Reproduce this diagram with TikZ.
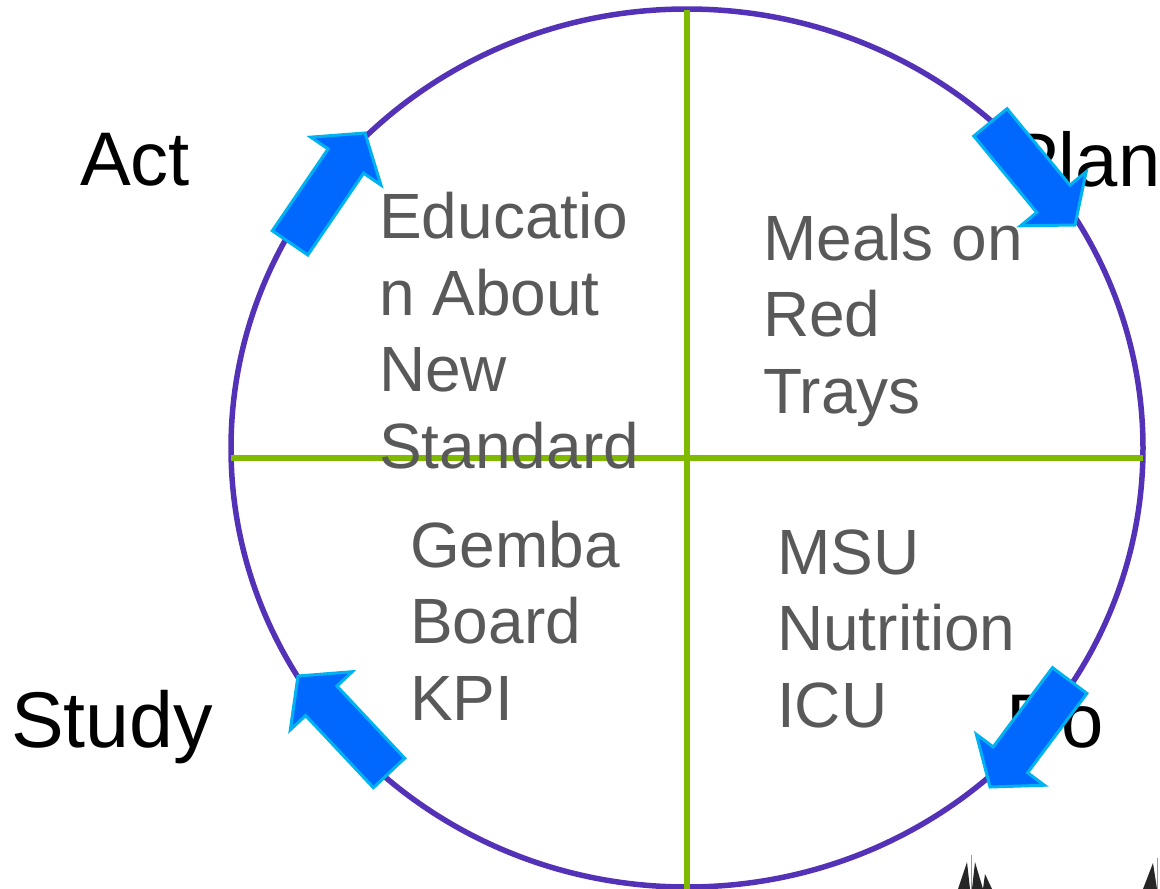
\documentclass[tikz,border=0pt]{standalone}
\usepackage{fontspec}
\setmainfont{Liberation Sans}
\usepackage{xcolor}
\usepackage{tikz}

\definecolor{ringpurple}{RGB}{84,50,184}
\definecolor{crossgreen}{RGB}{127,186,0}
\definecolor{arrowblue}{RGB}{0,104,255}
\definecolor{arrowedge}{RGB}{0,178,240}
\definecolor{taskgray}{RGB}{89,89,89}

\begin{document}
\begin{tikzpicture}[x=1pt, y=-1pt,
  phase/.style={anchor=base west, inner sep=0pt, font=\fontsize{76}{80}\selectfont},
  task/.style={anchor=base west, align=left, inner sep=0pt, text=taskgray, font=\fontsize{64}{76.5}\selectfont},
  pics/cyclearrow/.style={code={
    \draw[line width=3pt, draw=arrowedge, fill=arrowblue, line join=miter]
      (0,0) -- (-34,42.5) -- (-34,21.5) -- (-133,21.5) -- (-133,-21.5) -- (-34,-21.5) -- (-34,-42.5) -- cycle;}}]
\useasboundingbox (0,0) rectangle (1160,889);
\clip (0,0) rectangle (1160,889);

% ring and cross
\draw[ringpurple, line width=5.5pt] (687,448) ellipse [x radius=456, y radius=439];
\coordinate (top) at (687,10);
\coordinate (bottom) at (687,889);
\coordinate (left) at (231,458);
\coordinate (right) at (1143,458);
\draw[crossgreen, line width=6pt] (top) -- (bottom);
\draw[crossgreen, line width=6pt] (left) -- (right);

% phase labels
\node (act) [phase] at (80,185) {Act};
\node (plan) [phase] at (1008,186) {Plan};
\node (study) [phase, font=\fontsize{79}{80}\selectfont] at (11,747) {Study};
\node (do) [phase] at (1006,747) {Do};

% quadrant texts (base = last line)
\node (education) [task] at (379,468) {Educatio\\n About\\New\\Standard};
\node (meals) [task] at (763,413) {Meals on\\Red\\Trays};
\node (gemba) [task] at (410,720) {Gemba\\Board\\KPI};
\node (msu) [task] at (777,727) {MSU\\Nutrition\\ICU};

% cycle arrows
\pic[rotate=55.7] at (365,133) {cyclearrow};
\pic[rotate=-50.5] at (1075,225) {cyclearrow};
\pic[rotate=-126.8] at (990,787) {cyclearrow};
\pic[rotate=133.2] at (298,676) {cyclearrow};

% sailboats cut at the bottom edge
\fill[black!85] (958,889) -- (967,862) -- (970,889) -- cycle;
\fill[black!85] (972,889) -- (975,862) -- (983,889) -- cycle;
\fill[black!85] (983,889) -- (985,874) -- (992,889) -- cycle;
\draw[black!40, line width=1pt] (971,855) -- (971,889);
\fill[black!85] (1143,889) -- (1153,863) -- (1157,889) -- cycle;
\draw[black!40, line width=1pt] (1157,858) -- (1157,889);
\end{tikzpicture}
\end{document}
